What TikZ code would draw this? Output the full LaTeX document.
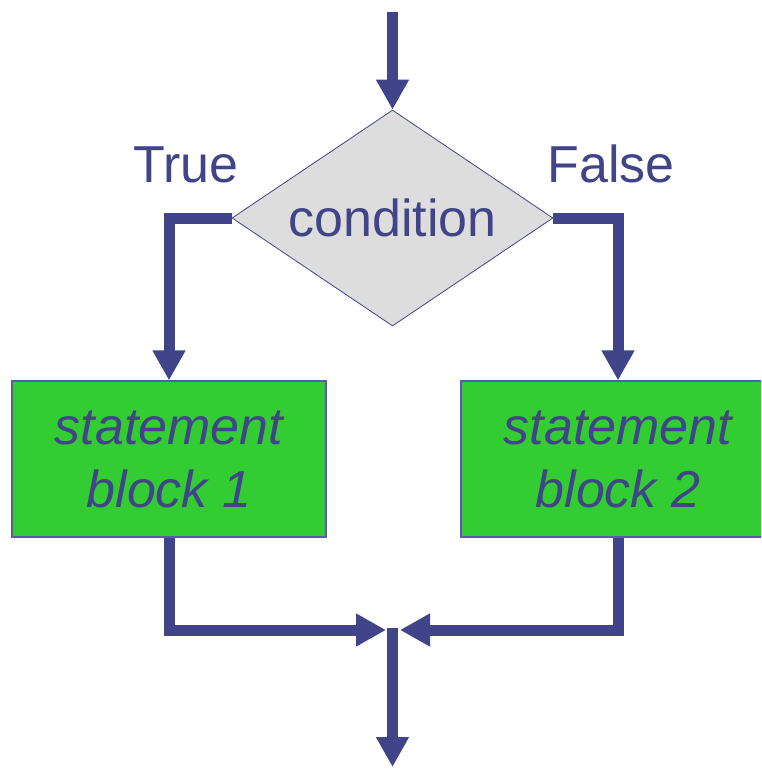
\documentclass[tikz,border=0pt]{standalone}
\usepackage{fontspec}
\setmainfont{Liberation Sans}
\usetikzlibrary{arrows.meta,shapes.geometric}
\definecolor{ink}{HTML}{414488}
\definecolor{boxgreen}{HTML}{33CC33}
\definecolor{diagray}{HTML}{DDDDDD}
\definecolor{boxline}{HTML}{5A5AA8}
\begin{document}
\begin{tikzpicture}[x=1pt,y=-1pt,
  flow/.style={draw=ink, line width=11pt, -{Triangle[length=30pt,width=31pt]}},
  lbl/.style={text=ink, font=\fontsize{52}{62}\selectfont},
  stmt/.style={draw=boxline, line width=1.2pt, fill=boxgreen, minimum width=314pt,
    minimum height=156pt, inner sep=0pt, text=ink, align=center,
    font=\fontsize{52}{63}\selectfont\itshape},
  cond/.style={diamond, draw=ink, line width=0.8pt, fill=diagray, minimum width=321pt,
    minimum height=216pt, shape aspect=1.5, inner sep=0pt, text=ink,
    font=\fontsize{52}{62}\selectfont}]
\useasboundingbox (0,0) rectangle (761,769);
\clip (0,0) rectangle (761,769);
\node[cond] (c) at (392.5,218) {condition};
\node[stmt] (b1) at (169,459) {statement\\block 1};
\node[stmt] (b2) at (618,459) {statement\\block 2};
\node[lbl, anchor=base] (t) at (186,182) {True};
\node[lbl, anchor=base] (f) at (611,182) {False};
\coordinate (start) at (392.5,12);
\coordinate (jl) at (386,630);
\coordinate (jr) at (400,630);
\coordinate (js) at (392.5,628);
\coordinate (end) at (392.5,767);
\draw[flow] (start) -- (c.north);
\draw[flow] (c.west) -| (b1.north);
\draw[flow] (c.east) -| (b2.north);
\draw[flow] (b1.south) |- (jl);
\draw[flow] (b2.south) |- (jr);
\draw[flow] (js) -- (end);
\end{tikzpicture}
\end{document}
